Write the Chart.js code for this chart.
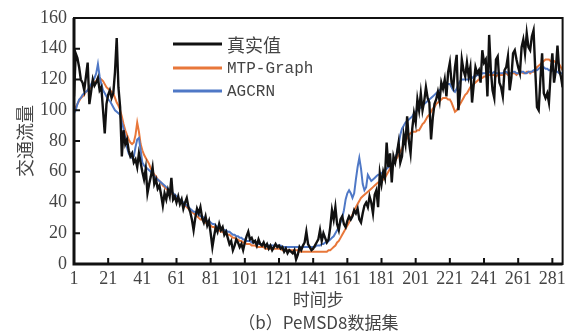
<!DOCTYPE html>
<html>
<head>
<meta charset="utf-8">
<script src="https://cdn.jsdelivr.net/npm/chart.js@4.4.1/dist/chart.umd.min.js"></script>
<style>
html, body { margin: 0; padding: 0; background: #fff; }
#wrap { width: 570px; height: 334px; }
</style>
</head>
<body>
<div id="wrap"><canvas id="flowChart" width="570" height="334"></canvas></div>
<script>
// PeMSD8 traffic flow, 287 time steps
const seriesNames = ['真实值', 'MTP-Graph', 'AGCRN'];
const seriesColors = ['#111111', '#e8773a', '#4f78c6'];

const trueValues = [
  109,137,134,128,120,118,113,122,131,104,
  112,120,116,118,121,113,115,100,85,104,
  110,113,108,111,125,147,115,102,70,87,
  78,81,74,70,72,66,68,63,72,66,
  60,55,62,46,52,57,63,52,55,49,
  51,45,38,46,42,48,44,56,42,44,
  40,44,39,42,36,40,43,37,34,29,
  22,30,36,33,37,30,27,31,25,28,
  20,11,18,24,21,26,22,24,19,21,
  17,13,15,9,12,16,14,11,13,9,
  14,18,21,16,17,14,15,12,16,13,
  12,14,11,13,10,12,9,11,13,11,
  12,10,11,8,10,7,9,8,7,9,
  3,6,11,9,12,14,21,13,11,9,
  10,12,14,16,22,15,20,17,14,16,
  24,35,29,37,26,22,29,31,26,24,
  28,31,29,31,35,33,36,29,27,33,
  38,40,37,44,40,33,45,48,37,59,
  52,60,56,79,63,72,53,70,66,72,
  79,66,70,84,78,96,80,72,88,98,
  92,107,100,111,100,106,115,108,105,81,
  95,104,107,112,106,118,114,120,109,125,
  131,118,115,128,136,100,112,133,126,122,
  131,122,128,105,117,128,124,126,118,139,
  131,133,109,149,126,113,108,133,135,118,
  115,109,126,128,135,113,121,137,139,133,
  128,124,141,146,137,150,141,139,148,152,
  126,102,100,120,137,111,108,111,105,124,
  137,118,126,142,126,122,115
];

const mtpValues = [
  100,102,104,106,108,109,110,112,113,114,
  115,116,118,119,121,121,120,119,117,115,
  114,113,112,111,108,105,103,100,96,91,
  87,84,81,79,78,79,84,92,86,78,
  74,71,69,67,65,62,60,58,57,55,
  54,53,51,50,49,48,47,46,45,44,
  43,42,41,40,39,38,37,36,35,34,
  33,32,31,30,29,29,28,27,26,26,
  25,24,24,23,22,22,21,21,20,20,
  19,19,18,17,17,16,16,15,15,14,
  14,13,13,13,12,12,12,11,11,11,
  11,11,10,10,10,10,10,10,10,10,
  10,10,9,9,9,9,9,9,9,9,
  9,9,8,8,8,8,8,8,8,8,
  8,8,8,8,8,8,8,8,8,9,
  9,10,11,12,14,15,17,19,21,23,
  25,27,30,32,35,37,39,41,43,44,
  45,46,47,48,49,50,51,52,53,53,
  54,55,56,58,60,62,64,66,67,69,
  71,73,75,78,80,82,84,85,86,86,
  86,87,87,89,91,92,94,96,97,99,
  101,102,104,105,106,107,108,108,108,107,
  107,105,102,99,100,102,104,106,108,110,
  111,113,115,116,117,118,119,120,121,121,
  122,122,123,123,123,123,123,122,123,123,
  123,123,124,124,123,124,124,124,124,123,
  124,124,125,124,124,125,125,124,125,125,
  126,128,129,130,131,132,133,133,133,132,
  132,132,131,131,130,128,126
];

const agcrnValues = [
  98,100,104,107,108,110,111,112,113,115,
  117,119,121,124,130,122,117,113,111,109,
  107,106,104,102,100,99,98,97,92,88,
  82,76,72,70,69,70,76,81,82,74,
  66,64,63,62,61,60,59,57,56,55,
  54,53,52,51,50,49,48,47,46,45,
  44,43,42,41,40,39,38,37,36,35,
  34,34,33,32,31,31,30,29,28,28,
  27,26,26,25,24,24,23,23,22,22,
  21,21,20,19,19,18,18,17,17,16,
  16,15,15,15,14,14,14,14,13,13,
  13,13,12,12,12,12,12,12,12,12,
  12,12,11,11,11,11,11,11,11,11,
  11,11,11,11,11,11,11,11,11,11,
  11,11,12,12,12,13,13,14,14,15,
  16,17,18,20,22,24,27,30,35,42,
  46,48,46,43,46,55,63,69,62,52,
  48,50,58,56,54,55,56,57,58,58,
  59,60,61,62,63,64,65,66,68,72,
  78,84,88,90,92,93,94,95,96,98,
  99,100,101,102,103,104,105,106,107,108,
  109,110,111,112,113,114,115,116,117,117,
  117,115,113,112,114,117,119,120,120,120,
  120,120,121,121,122,122,123,123,123,124,
  124,124,124,125,124,124,125,124,124,124,
  124,124,125,125,124,124,124,125,125,124,
  124,124,125,125,124,124,125,125,125,126,
  126,126,127,128,128,128,127,127,126,126,
  126,125,125,125,124,124,124
];

const steps = trueValues.map((_, i) => i + 1);
const xTicks = [1, 21, 41, 61, 81, 101, 121, 141, 161, 181, 201, 221, 241, 261, 281];
const yTicks = [0, 20, 40, 60, 80, 100, 120, 140, 160];

const textColor = '#444444';
const serif = '"Liberation Serif", "DejaVu Serif", serif';
const cjk = '"Noto Sans CJK SC", sans-serif';

// inward ticks + full frame
const frameTicks = {
  id: 'frameTicks',
  afterDatasetsDraw(chart) {
    const { ctx, chartArea: a, scales: { x, y } } = chart;
    ctx.save();
    ctx.strokeStyle = '#111';
    ctx.lineWidth = 2;
    ctx.strokeRect(a.left, a.top, a.right - a.left, a.bottom - a.top);
    ctx.lineWidth = 3;
    ctx.beginPath();
    ctx.moveTo(a.left, a.top);
    ctx.lineTo(a.left, a.bottom);
    ctx.lineTo(a.right, a.bottom);
    ctx.stroke();
    ctx.lineWidth = 2;
    ctx.beginPath();
    x.ticks.forEach(t => {
      const px = x.getPixelForValue(t.value);
      ctx.moveTo(px, a.bottom);
      ctx.lineTo(px, a.bottom - 6);
    });
    y.ticks.forEach(t => {
      const py = y.getPixelForValue(t.value);
      ctx.moveTo(a.left, py);
      ctx.lineTo(a.left + 6, py);
    });
    ctx.stroke();
    ctx.restore();
  }
};

// legend inside the plot, top left
const innerLegend = {
  id: 'innerLegend',
  afterDraw(chart) {
    const { ctx, chartArea: a } = chart;
    const x0 = a.left + 99, x1 = a.left + 148, tx = a.left + 153;
    const rows = [a.top + 26, a.top + 50, a.top + 73];
    ctx.save();
    chart.data.datasets.forEach((ds, i) => {
      ctx.strokeStyle = ds.borderColor;
      ctx.lineWidth = 3;
      ctx.beginPath();
      ctx.moveTo(x0, rows[i]);
      ctx.lineTo(x1, rows[i]);
      ctx.stroke();
      ctx.fillStyle = textColor;
      ctx.textBaseline = 'middle';
      ctx.font = i === 0 ? `18px ${cjk}` : '16px "Liberation Mono", monospace';
      ctx.fillText(ds.label, tx, rows[i] + 1);
    });
    ctx.restore();
  }
};

new Chart(document.getElementById('flowChart'), {
  type: 'line',
  data: {
    labels: steps,
    datasets: [
      { label: seriesNames[0], data: trueValues, borderColor: seriesColors[0], borderWidth: 2.4, order: 0 },
      { label: seriesNames[1], data: mtpValues, borderColor: seriesColors[1], borderWidth: 2, order: 2 },
      { label: seriesNames[2], data: agcrnValues, borderColor: seriesColors[2], borderWidth: 2, order: 1 }
    ]
  },
  options: {
    responsive: false,
    devicePixelRatio: 1,
    animation: false,
    elements: { point: { radius: 0 }, line: { tension: 0 } },
    layout: { padding: { top: 18, right: 7, left: 0, bottom: 0 } },
    plugins: { legend: { display: false }, tooltip: { enabled: false } },
    scales: {
      x: {
        type: 'linear',
        min: 1,
        max: 287,
        afterBuildTicks: axis => { axis.ticks = xTicks.map(v => ({ value: v })); },
        afterFit: axis => { axis.height = 70; },
        grid: { display: false, drawTicks: false },
        border: { display: false },
        ticks: {
          padding: 4,
          maxRotation: 0,
          autoSkip: false,
          color: textColor,
          font: { family: serif, size: 18 }
        },
        title: {
          display: true,
          text: ['时间步', '（b）PeMSD8数据集'],
          color: textColor,
          font: { family: cjk, size: 17, lineHeight: '23px' },
          padding: { top: 0, bottom: 0 }
        }
      },
      y: {
        min: 0,
        max: 160,
        afterBuildTicks: axis => { axis.ticks = yTicks.map(v => ({ value: v })); },
        afterFit: axis => { axis.width = 74; },
        grid: { display: false, drawTicks: false },
        border: { display: false },
        ticks: {
          padding: 7,
          color: textColor,
          font: { family: serif, size: 18 }
        },
        title: {
          display: true,
          text: '交通流量',
          color: textColor,
          font: { family: cjk, size: 18, lineHeight: 1.2 },
          padding: { top: 14, bottom: 0 }
        }
      }
    }
  },
  plugins: [frameTicks, innerLegend]
});
</script>
</body>
</html>
